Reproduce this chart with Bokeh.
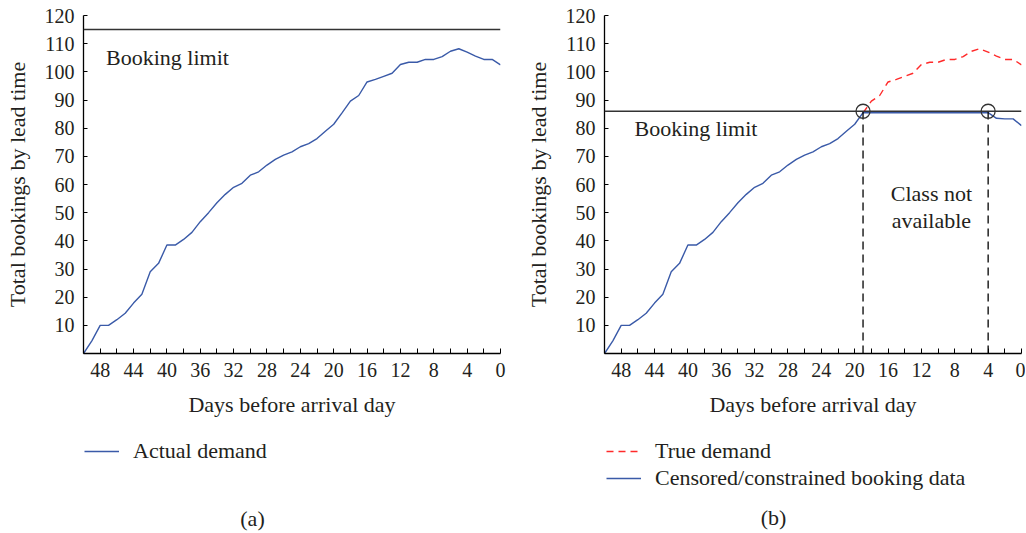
import numpy as np
from bokeh.plotting import figure
from bokeh.layouts import row, column
from bokeh.models import Range1d, FixedTicker, Legend, LegendItem, Span
from bokeh.core.properties import value
from bokeh.embed import file_html
from bokeh.resources import INLINE

# ---- data -------------------------------------------------------------
days = list(range(50, -1, -1))  # days before arrival, 50 .. 0
actual_demand = [0, 4.5, 10, 10, 12, 14.3, 17.9, 21, 29, 32,
                 38.5, 38.5, 40.5, 43, 46.8, 50, 53.5, 56.5, 59, 60.4,
                 63.3, 64.5, 66.9, 68.9, 70.4, 71.6, 73.4, 74.5, 76.3, 78.9,
                 81.4, 85.4, 89.6, 91.6, 96.4, 97.3, 98.4, 99.5, 102.6, 103.4,
                 103.4, 104.4, 104.4, 105.4, 107.3, 108.2, 107, 105.6, 104.4, 104.4,
                 102.5]
# censored bookings for days 19 .. 0 (class closed between day 19 and day 4)
censored_days = [19, 18, 17, 16, 15, 14, 13, 12, 11, 10, 9, 8, 7, 6, 5, 4, 3, 2, 1, 0]
censored_tail = [85.5, 85.5, 85.5, 85.5, 85.5, 85.5, 85.5, 85.5, 85.5, 85.5,
                 85.5, 85.5, 85.5, 85.5, 85.5, 85.5, 83.5, 83.3, 83.3, 80.9]
limit_a = 115
limit_b = 86
closed_days = [19, 4]
y_ticks = [10, 20, 30, 40, 50, 60, 70, 80, 90, 100, 110, 120]
x_ticks = [48, 44, 40, 36, 32, 28, 24, 20, 16, 12, 8, 4, 0]
x_minor_ticks = [50, 46, 42, 38, 34, 30, 26, 22, 18, 14, 10, 6, 2]

# ---- style ------------------------------------------------------------
FONT = "Liberation Serif"
FS_TICK = "20px"
FS = "22px"
TXT = "#231f20"
BLUE = "#3a5aa8"
RED = "#ff2a2a"
GREY = "#333333"
TOP_H = 420
KEY_H = 111


def make_fig(width, left, right):
    p = figure(width=width, height=TOP_H, x_range=Range1d(50, 0), y_range=Range1d(0, 120),
               output_backend="svg", toolbar_location=None,
               min_border_left=left, min_border_right=right,
               min_border_top=15, min_border_bottom=67)
    p.grid.visible = False
    p.outline_line_color = None
    for ax in (p.xaxis[0], p.yaxis[0]):
        ax.axis_line_color = "black"
        ax.axis_line_width = 1.3
        ax.major_tick_line_color = "black"
        ax.minor_tick_line_color = "black"
        ax.major_tick_out = 0
        ax.minor_tick_out = 0
        ax.major_label_text_font = FONT
        ax.major_label_text_font_size = FS_TICK
        ax.major_label_text_color = TXT
        ax.axis_label_text_font = FONT
        ax.axis_label_text_font_size = FS
        ax.axis_label_text_font_style = "normal"
        ax.axis_label_text_color = TXT
    xa = p.xaxis[0]
    xa.ticker = FixedTicker(ticks=x_ticks, minor_ticks=x_minor_ticks)
    xa.major_tick_in = 5
    xa.minor_tick_in = 5
    xa.major_label_standoff = 9
    xa.axis_label = "Days before arrival day"
    xa.axis_label_standoff = 12
    ya = p.yaxis[0]
    ya.ticker = FixedTicker(ticks=y_ticks)
    ya.major_tick_in = 4
    ya.minor_tick_in = 0
    ya.major_label_standoff = 9
    ya.axis_label = "Total bookings by lead time"
    ya.axis_label_standoff = 12
    return p


def make_key(width, left, top):
    k = figure(width=width, height=KEY_H, x_range=Range1d(0, width - left),
               y_range=Range1d(KEY_H - top, 0),
               x_axis_type=None, y_axis_type=None, output_backend="svg",
               toolbar_location=None, min_border_left=left, min_border_top=top,
               min_border_right=0, min_border_bottom=0)
    k.grid.visible = False
    k.outline_line_color = None
    return k


def legend_for(items):
    return Legend(items=items, location="top_left", orientation="vertical",
                  margin=0, padding=0, border_line_color=None,
                  background_fill_alpha=0, label_text_font=FONT,
                  label_text_font_size=FS, label_text_color=TXT,
                  glyph_width=35, glyph_height=24, label_height=24,
                  label_standoff=14, spacing=1)


nan_x = np.array([np.nan])
nan_y = np.array([np.nan])

W1 = 515
W2 = 510

# ---- panel (a) --------------------------------------------------------
pa = make_fig(W1, 83, W1 - 500)
pa.add_layout(Span(location=limit_a, dimension="width", line_color=GREY, line_width=1.5))
pa.line(days, actual_demand, line_color=BLUE, line_width=1.4)
pa.text(x=[47.3], y=[105.2], text=["Booking limit"], text_font=value(FONT),
        text_font_size=FS, text_color=TXT, text_baseline="middle", text_align="left")

ka = make_key(W1, 84, 14)
ka_line = ka.line(x=nan_x, y=nan_y, line_color=BLUE, line_width=1.4)
ka.add_layout(legend_for([LegendItem(label="Actual demand", renderers=[ka_line])]))
ka.text(x=[168], y=[83], text=["(a)"], text_font=value(FONT), text_font_size=FS,
        text_color=TXT, text_baseline="middle", text_align="center")

# ---- panel (b) --------------------------------------------------------
pb = make_fig(W2, 604 - W1, 4)
pb.add_layout(Span(location=limit_b, dimension="width", line_color=GREY, line_width=1.5))
open_days = [d for d in days if d > 19]
open_vals = actual_demand[:len(open_days)]
cens_x = open_days + censored_days
cens_y = open_vals + censored_tail
true_x = [d for d in days if d <= 19]
true_y = actual_demand[len(open_days):]
pb.line(true_x, true_y, line_color=RED, line_width=1.4, line_dash="7 5")
pb.line(cens_x, cens_y, line_color=BLUE, line_width=1.4)
pb.segment(x0=closed_days, y0=[0, 0], x1=closed_days, y1=[limit_b, limit_b],
           line_color="black", line_width=1.3, line_dash="8 5")
pb.scatter(x=closed_days, y=[limit_b, limit_b], size=14, fill_alpha=0,
           line_color=GREY, line_width=1.3)
pb.text(x=[46.4], y=[80.0], text=["Booking limit"], text_font=value(FONT),
        text_font_size=FS, text_color=TXT, text_baseline="middle", text_align="left")
pb.text(x=[10.8, 10.8], y=[56.9, 47.2], text=["Class not", "available"], text_font=value(FONT),
        text_font_size=FS, text_color=TXT, text_baseline="middle", text_align="center")

kb = make_key(W2, 606 - W1, 18)
kb_true = kb.line(x=nan_x, y=nan_y, line_color=RED, line_width=1.4, line_dash="7 5")
kb_cens = kb.line(x=nan_x, y=nan_y, line_color=BLUE, line_width=1.4)
kb.add_layout(legend_for([LegendItem(label="True demand", renderers=[kb_true]),
                          LegendItem(label="Censored/constrained booking data", renderers=[kb_cens])]))
kb.text(x=[167], y=[79], text=["(b)"], text_font=value(FONT), text_font_size=FS,
        text_color=TXT, text_baseline="middle", text_align="center")

layout = column(row(pa, pb), row(ka, kb))
open("out.html", "w").write(file_html(layout, INLINE))
